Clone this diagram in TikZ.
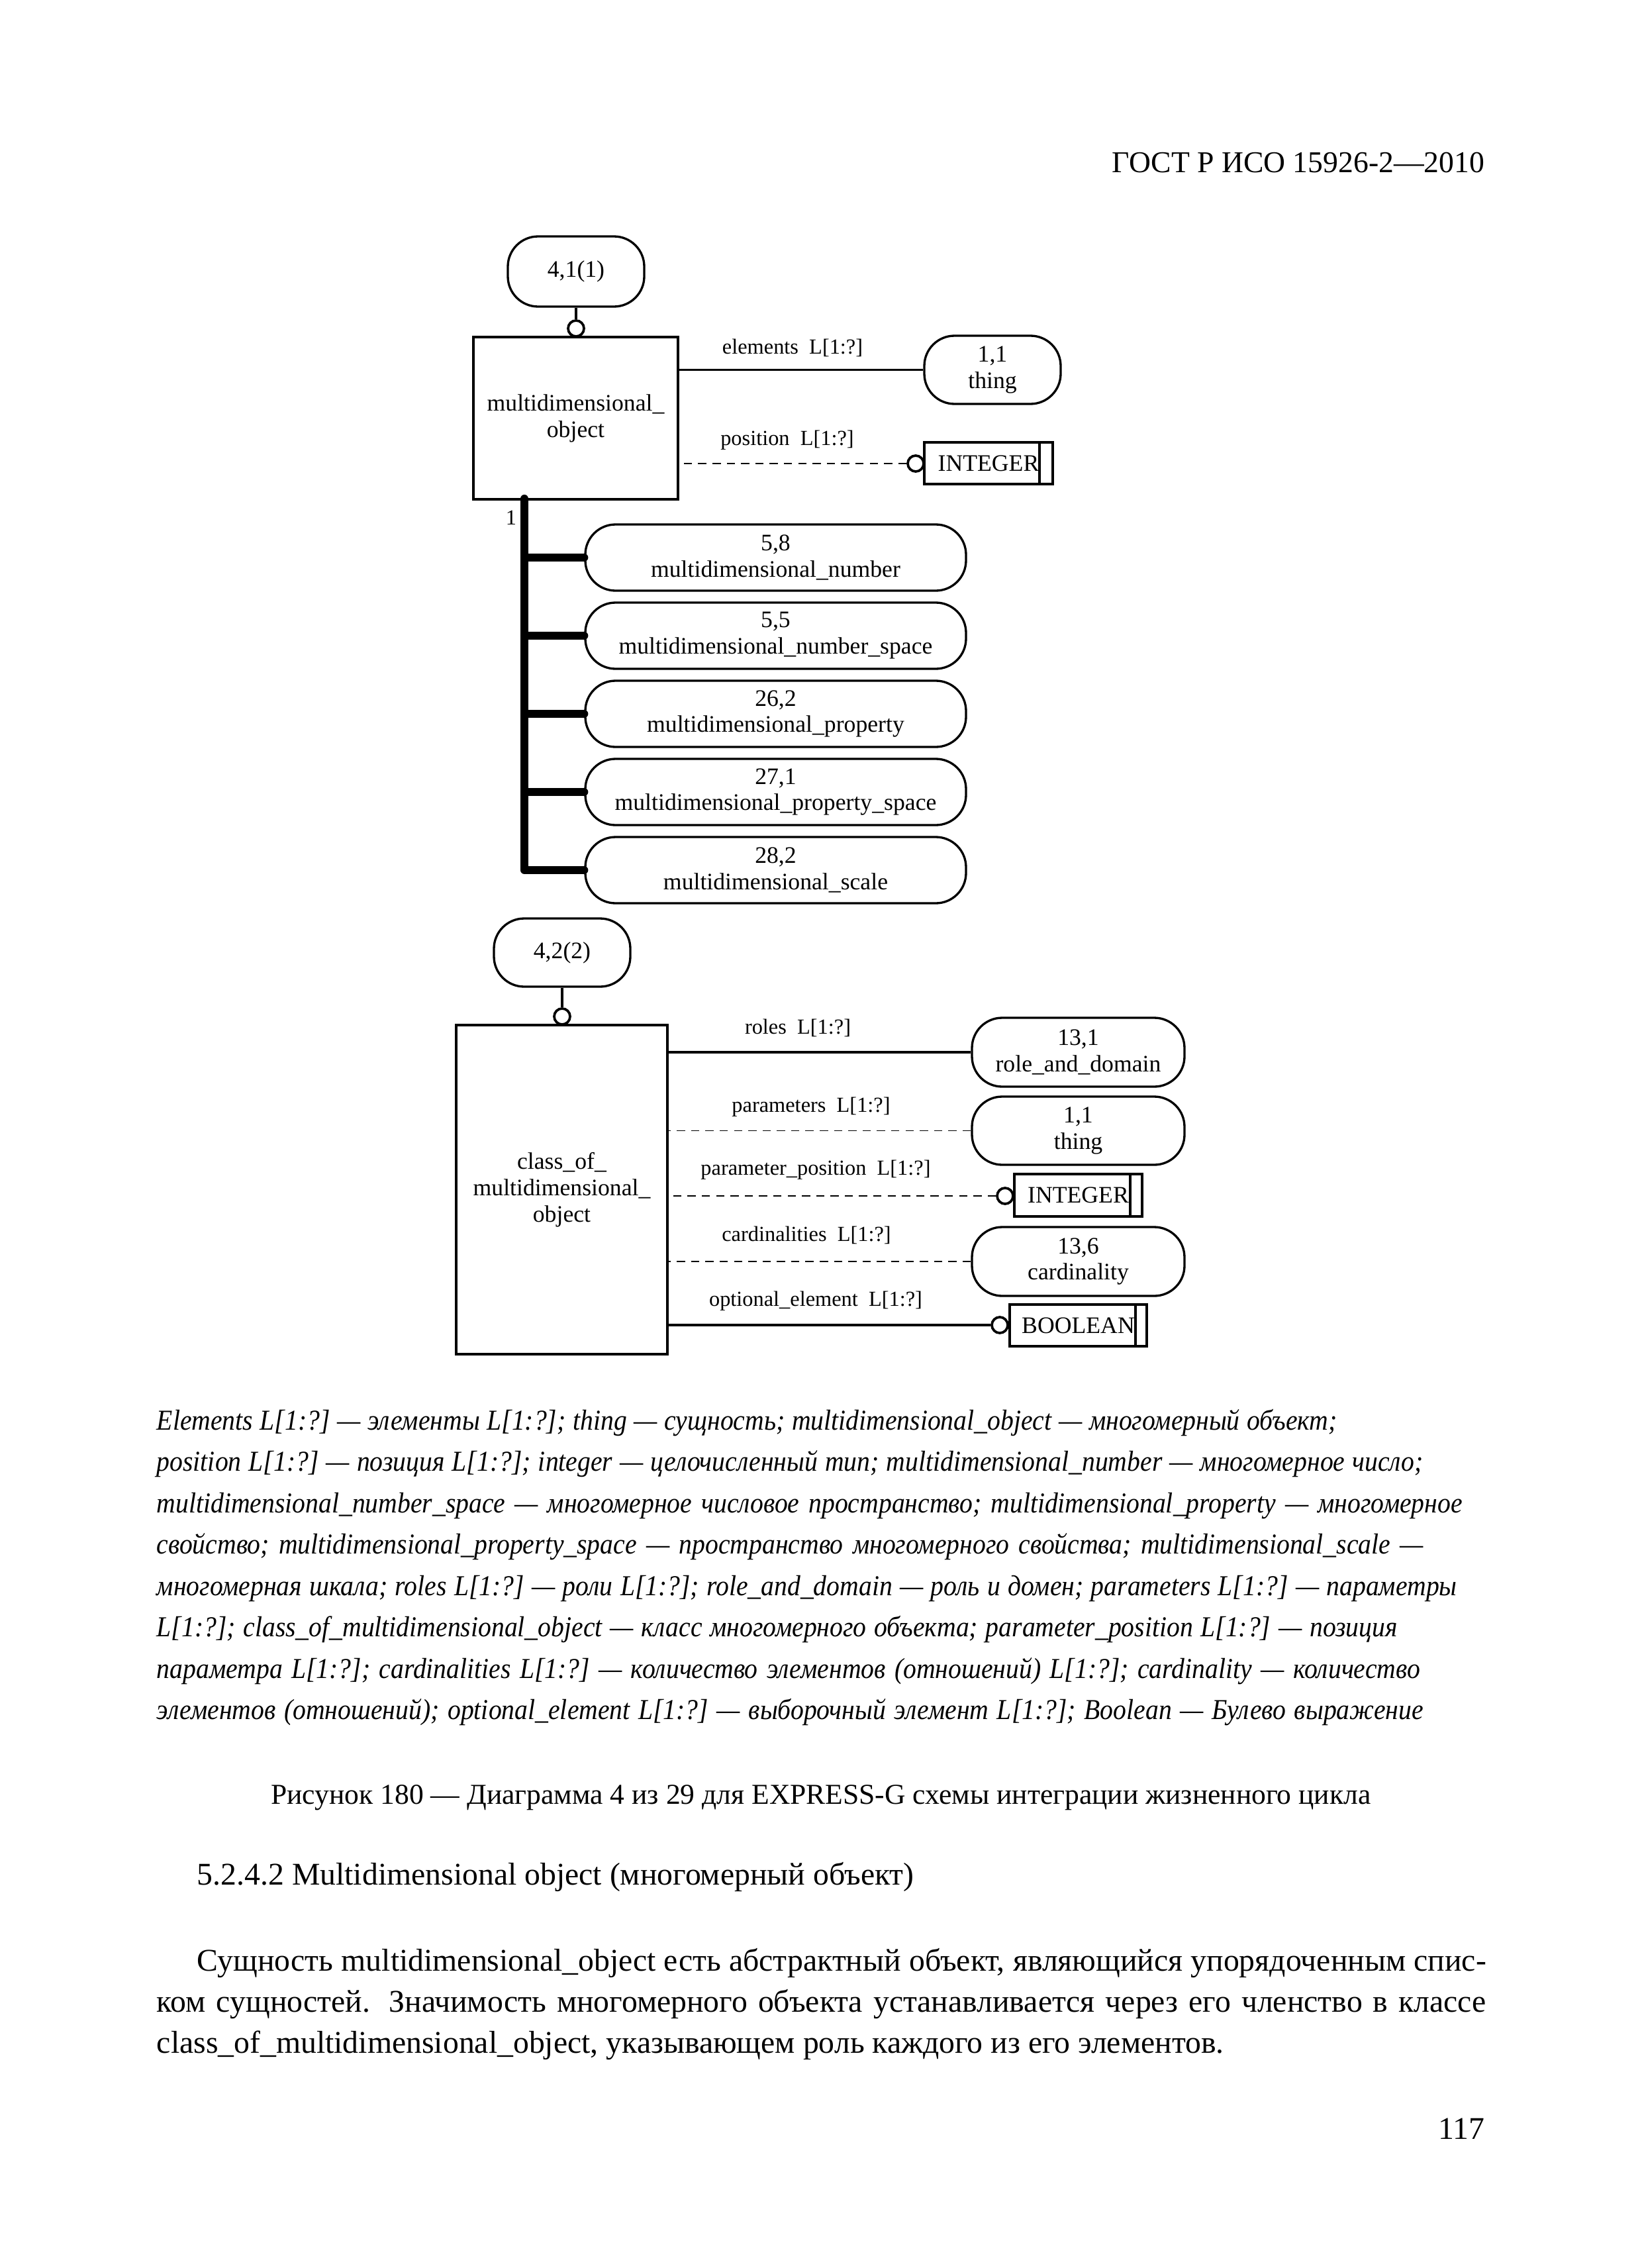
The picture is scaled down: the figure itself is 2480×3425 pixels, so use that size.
\documentclass[tikz,border=0pt]{standalone}
\usepackage{fontspec}
\setmainfont{Liberation Serif}
\newfontfamily\notefont[FakeStretch=0.91]{Liberation Serif}
\usetikzlibrary{positioning, calc}
\newlength{\px}
\setlength{\px}{0.2409pt}
\tikzset{
    expg/.style={font=\fontsize{8.6}{9.6}\selectfont, align=center, inner sep=0pt},
    entity/.style={expg, draw, line width=0.9pt},
    pageref/.style={expg, draw, line width=0.8pt, rounded corners=11pt},
    typebox/.style={expg, draw, line width=0.85pt},
    attrlabel/.style={font=\fontsize{7.8}{9}\selectfont, inner sep=0pt},
    optcirc/.style={draw, circle, line width=0.9pt, minimum size=24*\px, inner sep=0pt},
    rel/.style={line width=0.95pt},
    optrel/.style={line width=0.4pt, dash pattern=on 3pt off 2.2pt},
    subbar/.style={line width=2.9pt, line cap=round, line join=round},
    bodytext/.style={font=\fontsize{11.5}{13}\selectfont, inner sep=0pt, anchor=base west},
    noteline/.style={font=\notefont\itshape\fontsize{10.5}{12}\selectfont\frenchspacing, inner sep=0pt, anchor=base west}
}

\begin{document}
\begin{tikzpicture}[x=0.2409pt, y=-0.2409pt]
    \useasboundingbox (0,0) rectangle (2480,3425);

    % running head
    \node[bodytext, anchor=base east, font=\fontsize{11}{13}\selectfont] (header) at (2243,260) {ГОСТ Р ИСО 15926-2—2010};

    % upper part: multidimensional_object and its attributes
    \node[pageref, minimum width=206*\px, minimum height=106*\px] (p41) at (870,410) {4,1(1)};
    \node[optcirc] (oc1) at (870,496) {};
    \node[entity, minimum width=309*\px, minimum height=245*\px] (mobj) at (869.5,631.5) {multidimensional\_\\object};
    \node[pageref, minimum width=206*\px, minimum height=103*\px] (thing1) at (1499,558.5) {1,1\\thing};
    \node[typebox, minimum width=194*\px, minimum height=63*\px] (int1) at (1493,699.5) {INTEGER};
    \node[optcirc] (oc2) at (1383,700) {};
    \node[attrlabel] (lbl-elem) at (1197,525) {elements~~L[1:?]};
    \node[attrlabel] (lbl-pos) at (1189,665) {position~~L[1:?]};

    \draw[rel] (p41) -- (oc1);
    \draw[rel] (thing1.west) -- (thing1.west -| mobj.east);
    \draw[optrel] (oc2.west) -- (oc2.west -| mobj.east);

    % subtypes hanging off the thick bar
    \node[pageref, minimum width=575*\px, minimum height=100*\px] (sub1) at (1171.5,842) {5,8\\multidimensional\_number};
    \node[pageref, minimum width=575*\px, minimum height=100*\px] (sub2) at (1171.5,960) {5,5\\multidimensional\_number\_space};
    \node[pageref, minimum width=575*\px, minimum height=100*\px] (sub3) at (1171.5,1078) {26,2\\multidimensional\_property};
    \node[pageref, minimum width=575*\px, minimum height=100*\px] (sub4) at (1171.5,1196) {27,1\\multidimensional\_property\_space};
    \node[pageref, minimum width=575*\px, minimum height=100*\px] (sub5) at (1171.5,1314) {28,2\\multidimensional\_scale};

    \coordinate (bartop) at (792,753);
    \draw[subbar] (bartop) |- (sub5.west);
    \foreach \s in {sub1,sub2,sub3,sub4}
        \draw[subbar] (\s.west -| bartop) -- (\s.west);
    \node[attrlabel] (lbl-one) at (772,782) {1};

    % lower part: class_of_multidimensional_object
    \node[pageref, minimum width=206*\px, minimum height=103*\px] (p42) at (849,1438.5) {4,2(2)};
    \node[optcirc] (oc3) at (849,1535) {};
    \node[entity, line width=0.75pt, minimum width=319*\px, minimum height=497*\px] (cls) at (848.5,1796.5) {class\_of\_\\multidimensional\_\\object};
    \node[pageref, minimum width=321*\px, minimum height=104*\px] (rad) at (1628.5,1589) {13,1\\role\_and\_domain};
    \node[pageref, minimum width=321*\px, minimum height=103*\px] (thing2) at (1628.5,1707.5) {1,1\\thing};
    \node[typebox, minimum width=193*\px, minimum height=64*\px] (int2) at (1628.5,1805) {INTEGER};
    \node[optcirc] (oc4) at (1518,1806) {};
    \node[pageref, minimum width=321*\px, minimum height=104*\px] (card) at (1628.5,1905) {13,6\\cardinality};
    \node[typebox, minimum width=207*\px, minimum height=63*\px] (bool) at (1628.5,2001.5) {BOOLEAN};
    \node[optcirc] (oc5) at (1510,2001) {};

    \node[attrlabel] (lbl-roles) at (1205,1552) {roles~~L[1:?]};
    \node[attrlabel] (lbl-par) at (1225,1672) {parameters~~L[1:?]};
    \node[attrlabel] (lbl-parpos) at (1232,1767) {parameter\_position~~L[1:?]};
    \node[attrlabel] (lbl-card) at (1218,1865) {cardinalities~~L[1:?]};
    \node[attrlabel] (lbl-opt) at (1232,1965) {optional\_element~~L[1:?]};

    \draw[rel] (p42) -- (oc3);
    \draw[rel] (rad.west) -- (rad.west -| cls.east);
    \draw[optrel] (thing2.west) -- (thing2.west -| cls.east);
    \draw[optrel] (oc4.west) -- (oc4.west -| cls.east);
    \draw[optrel] (card.west) -- (card.west -| cls.east);
    \draw[rel] (oc5.west) -- (oc5.west -| cls.east);

    % the second border line of the simple types
    \foreach \b/\d in {int1/22,int2/20,bool/19}
        \draw[line width=0.85pt] ($(\b.north east)+(-\d,0)$) -- ($(\b.south east)+(-\d,0)$);

    % legend under the figure
    \node[noteline] (note1) at (236,2159) {\makebox[1783\px][s]{Elements L[1:?] — элементы L[1:?]; thing — сущность; multidimensional\_object — многомерный объект;}};
    \node[noteline] (note2) at (236,2221.5) {\makebox[1913\px][s]{position L[1:?] — позиция L[1:?]; integer — целочисленный тип; multidimensional\_number — многомерное число;}};
    \node[noteline] (note3) at (236,2284) {\makebox[1972\px][s]{multidimensional\_number\_space — многомерное числовое пространство; multidimensional\_property — многомерное}};
    \node[noteline] (note4) at (236,2346.5) {\makebox[1913\px][s]{свойство; multidimensional\_property\_space — пространство многомерного свойства; multidimensional\_scale —}};
    \node[noteline] (note5) at (236,2409) {\makebox[1964\px][s]{многомерная шкала; roles L[1:?] — роли L[1:?]; role\_and\_domain — роль и домен; parameters L[1:?] — параметры}};
    \node[noteline] (note6) at (236,2471.5) {\makebox[1874\px][s]{L[1:?]; class\_of\_multidimensional\_object — класс многомерного объекта; parameter\_position L[1:?] — позиция}};
    \node[noteline] (note7) at (236,2534) {\makebox[1908\px][s]{параметра L[1:?]; cardinalities L[1:?] — количество элементов (отношений) L[1:?]; cardinality — количество}};
    \node[noteline] (note8) at (236,2596.5) {\makebox[1913\px][s]{элементов (отношений); optional\_element L[1:?] — выборочный элемент L[1:?]; Boolean — Булево выражение}};

    % caption, heading and text
    \node[bodytext, anchor=base, font=\fontsize{10.5}{13}\selectfont] (figtitle) at (1240,2724) {Рисунок 180 — Диаграмма 4 из 29 для EXPRESS-G схемы интеграции жизненного цикла};
    \node[bodytext] (heading) at (297,2846) {5.2.4.2 Multidimensional object (многомерный объект)};
    \node[bodytext] (par1) at (297,2976) {\makebox[1947\px][s]{Сущность multidimensional\_object есть абстрактный объект, являющийся упорядоченным спис-}};
    \node[bodytext] (par2) at (236,3038) {\makebox[2008\px][s]{ком сущностей. Значимость многомерного объекта устанавливается через его членство в классе}};
    \node[bodytext] (par3) at (236,3100) {class\_of\_multidimensional\_object, указывающем роль каждого из его элементов.};
    \node[bodytext, anchor=base east] (pagenum) at (2243,3230) {117};
\end{tikzpicture}
\end{document}
